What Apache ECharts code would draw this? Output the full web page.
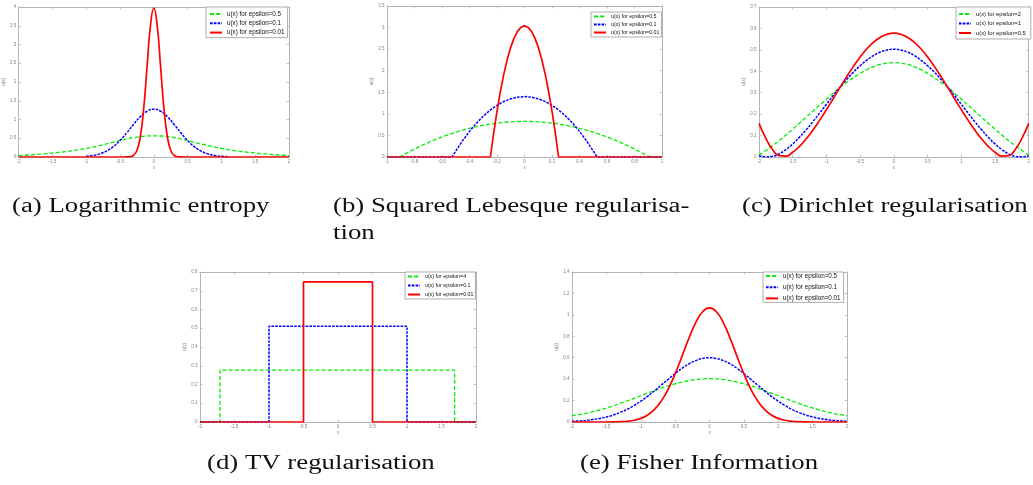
<!DOCTYPE html>
<html>
<head>
<meta charset="utf-8">
<script src="https://cdn.jsdelivr.net/npm/echarts@6/dist/echarts.min.js"></script>
<style>
  html, body { margin: 0; padding: 0; background: #fff; width: 1033px; height: 485px; overflow: hidden; }
  .layer { position: absolute; left: 0; top: 0; width: 1033px; height: 485px; }
</style>
</head>
<body>
<div id="captions" class="layer"></div>
<div id="pa" class="layer"></div>
<div id="pb" class="layer"></div>
<div id="pc" class="layer"></div>
<div id="pd" class="layer"></div>
<div id="pe" class="layer"></div>
<script>
// ---- sample positions ----
const X41 = [-2,-1.9,-1.8,-1.7,-1.6,-1.5,-1.4,-1.3,-1.2,-1.1,-1,-0.9,-0.8,-0.7,-0.6,-0.5,-0.4,-0.3,-0.2,-0.1,0,
             0.1,0.2,0.3,0.4,0.5,0.6,0.7,0.8,0.9,1,1.1,1.2,1.3,1.4,1.5,1.6,1.7,1.8,1.9,2];

// ---- tick labels ----
const xTicksA = [-2,-1.5,-1,-0.5,0,0.5,1,1.5,2];
const yTicksA = [0,0.5,1,1.5,2,2.5,3,3.5,4];
const xTicksB = [-1,-0.8,-0.6,-0.4,-0.2,0,0.2,0.4,0.6,0.8,1];
const yTicksB = [0,0.5,1,1.5,2,2.5,3,3.5];
const xTicksC = [-2,-1.5,-1,-0.5,0,0.5,1,1.5,2];
const yTicksC = [0,0.1,0.2,0.3,0.4,0.5,0.6,0.7];
const xTicksD = [-2,-1.5,-1,-0.5,0,0.5,1,1.5,2];
const yTicksD = [0,0.1,0.2,0.3,0.4,0.5,0.6,0.7,0.8];
const xTicksE = [-2,-1.5,-1,-0.5,0,0.5,1,1.5,2];
const yTicksE = [0,0.2,0.4,0.6,0.8,1,1.2,1.4];

// ---- (a) logarithmic entropy ----
const entropyGreenY = [0.036,0.047,0.060,0.074,0.089,0.106,0.124,0.145,0.170,0.198,0.230,0.263,0.303,0.348,0.395,0.441,0.484,0.519,0.544,0.560,0.566,
                       0.560,0.544,0.519,0.484,0.441,0.395,0.348,0.303,0.263,0.230,0.198,0.170,0.145,0.124,0.106,0.089,0.074,0.060,0.047,0.036];
const entropyBlueX = [-1,-0.9,-0.8,-0.7,-0.6,-0.5,-0.4,-0.3,-0.2,-0.1,0,0.1,0.2,0.3,0.4,0.5,0.6,0.7,0.8,0.9,1,1.1];
const entropyBlueY = [0.018,0.040,0.084,0.158,0.275,0.440,0.645,0.869,1.075,1.220,1.274,1.220,1.075,0.869,0.645,0.440,0.275,0.158,0.084,0.040,0.018,0.007];
const entropyRedX = [-2,-1,-0.5,-0.45,-0.4,-0.35,-0.3,-0.25,-0.2,-0.15,-0.1,-0.05,0,0.05,0.1,0.15,0.2,0.25,0.3,0.35,0.4,0.45,0.5,1,2];
const entropyRedY = [0,0,0,0,0.001,0.009,0.044,0.175,0.540,1.290,2.410,3.500,3.970,3.500,2.410,1.290,0.540,0.175,0.044,0.009,0.001,0,0,0,0];

// ---- (b) squared Lebesgue ----
const lebGreenX = [-1,-0.908,-0.9,-0.85,-0.8,-0.75,-0.7,-0.65,-0.6,-0.55,-0.5,-0.45,-0.4,-0.35,-0.3,-0.25,-0.2,-0.15,-0.1,-0.05,0,
                   0.05,0.1,0.15,0.2,0.25,0.3,0.35,0.4,0.45,0.5,0.55,0.6,0.65,0.7,0.75,0.8,0.85,0.9,0.908,1];
const lebGreenY = [0,0,0.015,0.102,0.185,0.262,0.335,0.402,0.465,0.522,0.575,0.622,0.665,0.702,0.735,0.763,0.785,0.803,0.815,0.823,0.825,
                   0.823,0.815,0.803,0.785,0.763,0.735,0.702,0.665,0.622,0.575,0.522,0.465,0.402,0.335,0.262,0.185,0.102,0.015,0,0];
const lebBlueX = [-1,-0.527,-0.5,-0.45,-0.4,-0.35,-0.3,-0.25,-0.2,-0.15,-0.1,-0.05,0,0.05,0.1,0.15,0.2,0.25,0.3,0.35,0.4,0.45,0.5,0.527,1];
const lebBlueY = [0,0,0.140,0.379,0.594,0.783,0.946,1.085,1.198,1.287,1.350,1.387,1.400,1.387,1.350,1.287,1.198,1.085,0.946,0.783,0.594,0.379,0.140,0,0];
const lebRedX = [-1,-0.248,-0.225,-0.2,-0.175,-0.15,-0.125,-0.1,-0.075,-0.05,-0.025,0,0.025,0.05,0.075,0.1,0.125,0.15,0.175,0.2,0.225,0.248,1];
const lebRedY = [0,0,0.538,1.063,1.526,1.928,2.268,2.546,2.762,2.917,3.009,3.040,3.009,2.917,2.762,2.546,2.268,1.928,1.526,1.063,0.538,0,0];

// ---- (c) Dirichlet ----
const dirGreenY = [0.010,0.030,0.053,0.077,0.103,0.130,0.158,0.186,0.214,0.242,0.270,0.298,0.324,0.348,0.370,0.390,0.408,0.422,0.432,0.438,0.440,
                   0.438,0.432,0.422,0.408,0.390,0.370,0.348,0.324,0.298,0.270,0.242,0.214,0.186,0.158,0.130,0.103,0.077,0.053,0.030,0.010];
const dirBlueY = [0.006,0.001,0.003,0.015,0.035,0.061,0.092,0.127,0.165,0.205,0.246,0.287,0.326,0.362,0.396,0.426,0.452,0.474,0.490,0.499,0.503,
                  0.499,0.490,0.474,0.452,0.426,0.396,0.362,0.326,0.287,0.246,0.205,0.165,0.127,0.092,0.061,0.035,0.015,0.003,0.001,0.006];
const dirRedY = [0.157,0.088,0.035,0.006,0.004,0.022,0.050,0.085,0.126,0.172,0.221,0.272,0.324,0.375,0.423,0.467,0.505,0.536,0.559,0.573,0.578,
                 0.573,0.559,0.536,0.505,0.467,0.423,0.375,0.324,0.272,0.221,0.172,0.126,0.085,0.050,0.022,0.004,0.006,0.035,0.088,0.157];

// ---- (d) TV ----
const tvGreenX = [-2,-1.71,-1.71,1.69,1.69,2];
const tvGreenY = [0,0,0.277,0.277,0,0];
const tvBlueX = [-2,-1,-1,1,1,2];
const tvBlueY = [0,0,0.511,0.511,0,0];
const tvRedX = [-2,-0.5,-0.5,0.5,0.5,2];
const tvRedY = [0,0,0.747,0.747,0,0];

// ---- (e) Fisher information ----
const fisherGreenY = [0.058,0.068,0.080,0.095,0.112,0.131,0.151,0.173,0.196,0.220,0.245,0.269,0.293,0.317,0.338,0.357,0.373,0.386,0.396,0.402,0.404,
                      0.402,0.396,0.386,0.373,0.357,0.338,0.317,0.293,0.269,0.245,0.220,0.196,0.173,0.151,0.131,0.112,0.095,0.080,0.068,0.058];
const fisherBlueY = [0.007,0.010,0.015,0.023,0.033,0.047,0.065,0.089,0.118,0.153,0.194,0.240,0.291,0.345,0.399,0.452,0.501,0.542,0.573,0.593,0.600,
                     0.593,0.573,0.542,0.501,0.452,0.399,0.345,0.291,0.240,0.194,0.153,0.118,0.089,0.065,0.047,0.033,0.023,0.015,0.010,0.007];
const fisherRedY = [0,0,0,0,0,0,0.001,0.003,0.007,0.016,0.034,0.065,0.117,0.197,0.308,0.450,0.613,0.781,0.928,1.029,1.065,
                    1.029,0.928,0.781,0.613,0.450,0.308,0.197,0.117,0.065,0.034,0.016,0.007,0.003,0.001,0,0,0,0,0,0];

// ---- captions ----
const captionTexts = ['(a) Logarithmic entropy', '(b) Squared Lebesque regularisa-', 'tion',
                      '(c) Dirichlet regularisation', '(d) TV regularisation', '(e) Fisher Information'];

// ---- drawing ----
const GREEN = '#00ee00', BLUE = '#0000ff', RED = '#ff0000';
const pairs = (xs, ys) => xs.map((x, i) => [x, ys[i]]);

function lineSeries(name, xs, ys, color, kind, smooth) {
  const style = {
    green: { width: 1.3, type: [4, 2.2] },
    blue:  { width: 1.5, type: [2.6, 1.2] },
    red:   { width: 1.7, type: 'solid' }
  }[kind];
  return {
    type: 'line', name, data: pairs(xs, ys), smooth: smooth,
    symbol: 'none', showSymbol: false, animation: false, clip: true,
    lineStyle: { color, width: style.width, type: style.type },
    itemStyle: { color }
  };
}

function axisPair(ticks, dir, nameText) {
  const min = ticks[0], max = ticks[ticks.length - 1];
  const interval = +(ticks[1] - ticks[0]).toFixed(6);
  const line = { show: true, onZero: false, lineStyle: { color: '#b4b4b4', width: 1 } };
  const tick = { show: true, inside: true, length: 2.5, lineStyle: { color: '#b4b4b4', width: 0.8 } };
  const main = {
    type: 'value', min, max, interval,
    position: dir === 'x' ? 'bottom' : 'left',
    axisLine: line, axisTick: tick, splitLine: { show: false },
    axisLabel: { fontSize: 4.5, color: '#808080', margin: 2.5, fontFamily: 'Liberation Sans',
                 showMinLabel: true, showMaxLabel: true,
                 formatter: v => String(+v.toFixed(6)) },
    name: nameText, nameLocation: 'middle',
    nameGap: dir === 'x' ? 6.5 : 7, nameRotate: dir === 'x' ? 0 : 90,
    nameTextStyle: { fontSize: 4.5, color: '#808080', fontFamily: 'Liberation Sans' }
  };
  const mirror = {
    type: 'value', min, max, interval,
    position: dir === 'x' ? 'top' : 'right',
    axisLine: line, axisTick: tick, splitLine: { show: false }, axisLabel: { show: false }
  };
  return [main, mirror];
}

function panel(id, box, xTicks, yTicks, leg, series) {
  const chart = echarts.init(document.getElementById(id), null, { renderer: 'canvas' });
  chart.setOption({
    animation: false,
    backgroundColor: 'transparent',
    grid: { left: box[0], top: box[1], width: box[2], height: box[3], containLabel: false },
    xAxis: axisPair(xTicks, 'x', 'x'),
    yAxis: axisPair(yTicks, 'y', 'u(x)'),
    legend: {
      orient: 'vertical', left: leg.x, top: leg.y,
      padding: leg.pad, itemGap: leg.gap, itemWidth: 12, itemHeight: 6,
      backgroundColor: '#fff', borderColor: '#999', borderWidth: 0.8, borderRadius: 0,
      itemStyle: { opacity: 0 },
      textStyle: { fontSize: leg.font, color: '#111', fontFamily: 'Liberation Sans' },
      data: series.map(s => s.name)
    },
    series: series
  });
}

panel('pa', [13, 7, 276, 150], xTicksA, yTicksA,
  { x: 206, y: 7, pad: [4, 3, 2, 3], gap: 3.3, font: 6.3 },
  [lineSeries('u(x) for epsilon=0.5', X41, entropyGreenY, GREEN, 'green', true),
   lineSeries('u(x) for epsilon=0.1', entropyBlueX, entropyBlueY, BLUE, 'blue', true),
   lineSeries('u(x) for epsilon=0.01', entropyRedX, entropyRedY, RED, 'red', true)]);

panel('pb', [387, 6, 275, 151], xTicksB, yTicksB,
  { x: 591, y: 12, pad: [2, 2, 2, 2], gap: 3, font: 5.3 },
  [lineSeries('u(x) for epsilon=0.5', lebGreenX, lebGreenY, GREEN, 'green', false),
   lineSeries('u(x) for epsilon=0.1', lebBlueX, lebBlueY, BLUE, 'blue', false),
   lineSeries('u(x) for epsilon=0.01', lebRedX, lebRedY, RED, 'red', false)]);

panel('pc', [759, 7, 274, 150], xTicksC, yTicksC,
  { x: 956, y: 7, pad: [4, 5, 3, 2], gap: 3.5, font: 5.8 },
  [lineSeries('u(x) for epsilon=2', X41, dirGreenY, GREEN, 'green', true),
   lineSeries('u(x) for epsilon=1', X41, dirBlueY, BLUE, 'blue', true),
   lineSeries('u(x) for epsilon=0.5', X41, dirRedY, RED, 'red', true)]);

panel('pd', [200, 272, 276, 150], xTicksD, yTicksD,
  { x: 405, y: 272, pad: [2, 2, 2, 2], gap: 4, font: 5.3 },
  [lineSeries('u(x) for epsilon=4', tvGreenX, tvGreenY, GREEN, 'green', false),
   lineSeries('u(x) for epsilon=0.1', tvBlueX, tvBlueY, BLUE, 'blue', false),
   lineSeries('u(x) for epsilon=0.01', tvRedX, tvRedY, RED, 'red', false)]);

panel('pe', [572, 272, 275, 150], xTicksE, yTicksE,
  { x: 763, y: 272, pad: [1, 3, 1, 2], gap: 5.2, font: 6.3 },
  [lineSeries('u(x) for epsilon=0.5', X41, fisherGreenY, GREEN, 'green', true),
   lineSeries('u(x) for epsilon=0.1', X41, fisherBlueY, BLUE, 'blue', true),
   lineSeries('u(x) for epsilon=0.01', X41, fisherRedY, RED, 'red', true)]);

// sub-figure captions
const capPos = [[12, 207], [333, 207], [333, 234], [742, 207], [207, 464], [580, 464]];
const capChart = echarts.init(document.getElementById('captions'), null, { renderer: 'canvas' });
capChart.setOption({
  animation: false,
  graphic: captionTexts.map((t, i) => ({
    type: 'text', x: capPos[i][0], y: capPos[i][1], scaleX: 1.34,
    style: { text: t, fontSize: 20, fontFamily: 'Liberation Serif', fill: '#111',
             align: 'left', verticalAlign: 'middle' }
  }))
});
</script>
</body>
</html>
